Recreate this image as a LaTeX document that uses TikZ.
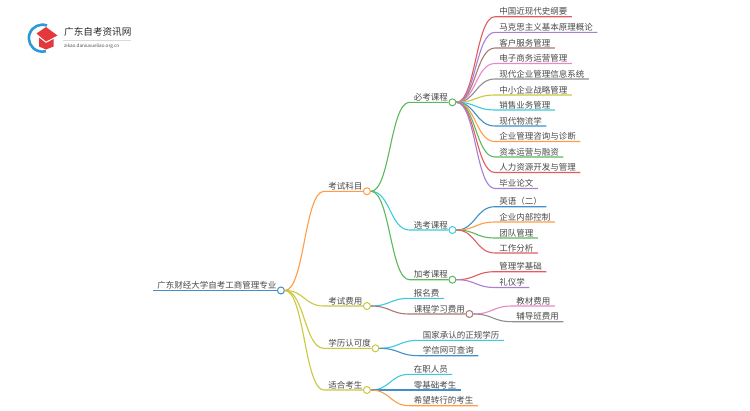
\documentclass[tikz,border=0pt]{standalone}
\usepackage{fontspec}
\setmainfont{Noto Sans CJK SC}
\usetikzlibrary{positioning,calc}
\definecolor{cred}{HTML}{E45A5F}
\definecolor{cpurple}{HTML}{A97FD6}
\definecolor{cbrown}{HTML}{A87A70}
\definecolor{cpink}{HTML}{EE85C8}
\definecolor{cgray}{HTML}{8F8F8F}
\definecolor{colive}{HTML}{C9C83F}
\definecolor{ccyan}{HTML}{3BCBDC}
\definecolor{cblue}{HTML}{3F8FC9}
\definecolor{corange}{HTML}{FF9C45}
\definecolor{cgreen}{HTML}{5CB85C}
\definecolor{ctext}{HTML}{484848}
\definecolor{clogored}{HTML}{E5383B}
\definecolor{clogoblue}{HTML}{2C9AD8}
\tikzstyle{topic}=[anchor=south west,inner xsep=4.25pt,inner ysep=1pt,text=ctext,font=\fontsize{8.5}{10}\selectfont]
\tikzstyle{dot}=[circle,fill=white,draw,line width=1pt,inner sep=0pt,minimum size=7pt]
\tikzstyle{link}=[line width=1.1pt,to path={let \p1=(\tikztostart),\p2=(\tikztotarget) in .. controls (\x1/2+\x2/2,\y1) and (\x1/2+\x2/2,\y2) .. (\tikztotarget)}]

\begin{document}
\begin{tikzpicture}[x=1pt,y=-1pt]
\useasboundingbox (0,0) rectangle (750,410);
% logo
\draw [clogoblue, line width=2.6pt] (47,25.5) arc (-70:-285:13.5);
\fill [clogored] (46,27) -- (57.5,35.5) -- (46,41.5) -- (36.5,33.5) -- cycle;
\fill [clogored] (39,37.5) -- (46,43) -- (53.5,39) -- (53.5,46.5) -- (46,49.5) -- (39,46.5) -- cycle;
\node [inner sep=0pt,anchor=west,text=black!85,font=\fontsize{9.6}{11}\selectfont] (title) at (64,32) {广东自考资讯网};
\node [inner sep=0pt,anchor=west,text=black!70,font=\fontsize{4.6}{6}\selectfont] (site) at (64,46) {zikao.daniuxueliao.org.cn};
\draw [black!15, line width=.4pt] (63,40) -- (131,40);
% nodes, left to right
\node [topic] (root) at (153,290.5) {广东财经大学自考工商管理专业};
\node [topic] (km) at (324,191.3) {考试科目};
\node [topic] (fy) at (324,306) {考试费用};
\node [topic] (xl) at (324,348.3) {学历认可度};
\node [topic] (ks) at (324,390) {适合考生};
\node [topic] (bk) at (409.5,102.3) {必考课程};
\node [topic] (xk) at (409.5,230) {选考课程};
\node [topic] (jk) at (409.5,279.7) {加考课程};
\node [topic] (bm) at (409.5,298.3) {报名费};
\node [topic] (kc) at (409.5,314) {课程学习费用};
\node [topic] (gj) at (418.5,340.3) {国家承认的正规学历};
\node [topic] (xx) at (418.5,355.7) {学信网可查询};
\node [topic] (zz) at (409.5,374.3) {在职人员};
\node [topic] (lj) at (409.5,390) {零基础考生};
\node [topic] (xw) at (409.5,405.7) {希望转行的考生};
\node [topic] (a1) at (495,16.7) {中国近现代史纲要};
\node [topic] (a2) at (495,32.3) {马克思主义基本原理概论};
\node [topic] (a3) at (495,48) {客户服务管理};
\node [topic] (a4) at (495,63.5) {电子商务运营管理};
\node [topic] (a5) at (495,79) {现代企业管理信息系统};
\node [topic] (a6) at (495,95) {中小企业战略管理};
\node [topic] (a7) at (495,110) {销售业务管理};
\node [topic] (a8) at (495,126) {现代物流学};
\node [topic] (a9) at (495,141.5) {企业管理咨询与诊断};
\node [topic] (a10) at (495,157) {资本运营与融资};
\node [topic] (a11) at (495,172.5) {人力资源开发与管理};
\node [topic] (a12) at (495,188.5) {毕业论文};
\node [topic] (b1) at (495,206.7) {英语（二）};
\node [topic] (b2) at (495,222) {企业内部控制};
\node [topic] (b3) at (495,238) {团队管理};
\node [topic] (b4) at (495,253) {工作分析};
\node [topic] (c1) at (495,271.7) {管理学基础};
\node [topic] (c2) at (495,287.5) {礼仪学};
\node [topic] (d1) at (512,306) {教材费用};
\node [topic] (d2) at (512,321.7) {辅导班费用};
% dots at the end of each branch
\node [dot,draw=cblue] (rootdot) at (root.south east) {};
\node [dot,draw=corange] (kmdot) at (km.south east) {};
\node [dot,draw=colive] (fydot) at (fy.south east) {};
\node [dot,draw=colive] (xldot) at (xl.south east) {};
\node [dot,draw=colive] (ksdot) at (ks.south east) {};
\node [dot,draw=cgreen] (bkdot) at (bk.south east) {};
\node [dot,draw=ccyan] (xkdot) at (xk.south east) {};
\node [dot,draw=cgreen] (jkdot) at (jk.south east) {};
\node [dot,draw=cbrown] (kcdot) at (kc.south east) {};
% connectors
\draw [link,cblue] (root.south west) -- (rootdot);
\draw [link,corange] (rootdot.east) to (km.south west) -- (kmdot);
\draw [link,colive] (rootdot.east) to (fy.south west) -- (fydot);
\draw [link,colive] (rootdot.east) to (xl.south west) -- (xldot);
\draw [link,colive] (rootdot.east) to (ks.south west) -- (ksdot);
\draw [link,cgreen] (kmdot.east) to (bk.south west) -- (bkdot);
\draw [link,ccyan] (kmdot.east) to (xk.south west) -- (xkdot);
\draw [link,cgreen] (kmdot.east) to (jk.south west) -- (jkdot);
\draw [link,ccyan] (fydot.east) to (bm.south west) -- (bm.south east);
\draw [link,cbrown] (fydot.east) to (kc.south west) -- (kcdot);
\draw [link,ccyan] (xldot.east) to (gj.south west) -- (gj.south east);
\draw [link,cblue] (xldot.east) to (xx.south west) -- (xx.south east);
\draw [link,ccyan] (ksdot.east) to (zz.south west) -- (zz.south east);
\draw [link,cblue] (ksdot.east) -- (lj.south west) -- (lj.south east);
\draw [link,corange] (ksdot.east) to (xw.south west) -- (xw.south east);
\draw [link,cred] (bkdot.east) to (a1.south west) -- (a1.south east);
\draw [link,cpurple] (bkdot.east) to (a2.south west) -- (a2.south east);
\draw [link,cbrown] (bkdot.east) to (a3.south west) -- (a3.south east);
\draw [link,cpink] (bkdot.east) to (a4.south west) -- (a4.south east);
\draw [link,cgray] (bkdot.east) to (a5.south west) -- (a5.south east);
\draw [link,colive] (bkdot.east) to (a6.south west) -- (a6.south east);
\draw [link,ccyan] (bkdot.east) to (a7.south west) -- (a7.south east);
\draw [link,cblue] (bkdot.east) to (a8.south west) -- (a8.south east);
\draw [link,corange] (bkdot.east) to (a9.south west) -- (a9.south east);
\draw [link,cgreen] (bkdot.east) to (a10.south west) -- (a10.south east);
\draw [link,cred] (bkdot.east) to (a11.south west) -- (a11.south east);
\draw [link,cpurple] (bkdot.east) to (a12.south west) -- (a12.south east);
\draw [link,cblue] (xkdot.east) to (b1.south west) -- (b1.south east);
\draw [link,corange] (xkdot.east) to (b2.south west) -- (b2.south east);
\draw [link,cgreen] (xkdot.east) to (b3.south west) -- (b3.south east);
\draw [link,cred] (xkdot.east) to (b4.south west) -- (b4.south east);
\draw [link,cred] (jkdot.east) to (c1.south west) -- (c1.south east);
\draw [link,cpurple] (jkdot.east) to (c2.south west) -- (c2.south east);
\draw [link,cpink] (kcdot.east) to (d1.south west) -- (d1.south east);
\draw [link,cgray] (kcdot.east) to (d2.south west) -- (d2.south east);
\end{tikzpicture}
\end{document}
